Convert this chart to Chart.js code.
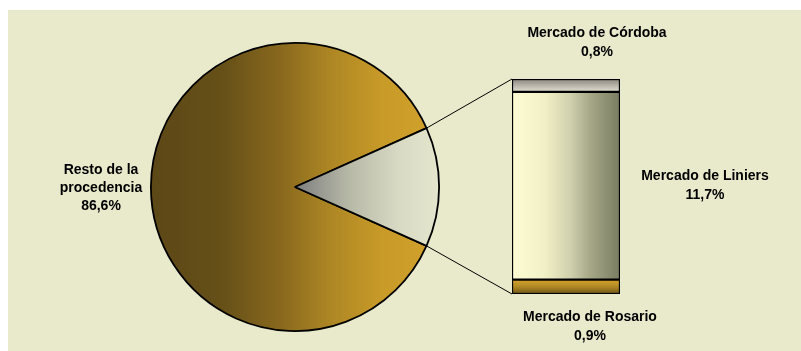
<!DOCTYPE html>
<html>
<head>
<meta charset="utf-8">
<script src="https://cdn.jsdelivr.net/npm/chart.js@4.4.0/dist/chart.umd.min.js"></script>
<style>
  body { margin: 0; background: #ffffff; }
  #wrap { position: relative; width: 801px; height: 351px; overflow: hidden; }
  #panel { position: absolute; left: 8px; top: 10px; width: 793px; height: 341px; background: #e9e9cb; }
  canvas { position: absolute; left: 0; top: 0; }
</style>
</head>
<body>
<div id="wrap">
  <div id="panel"></div>
  <canvas id="pieChart" width="801" height="351"></canvas>
  <canvas id="barChart" width="801" height="351"></canvas>
</div>
<script>
// pie: main share vs. the markets broken out in the bar
var pieLabels = [['Resto de la', 'procedencia'], ['Mercados']];
var pieValues = [86.6, 13.4];

// bar: stacked from bottom to top
var barLabels = ['Mercado de Rosario', 'Mercado de Liniers', 'Mercado de Córdoba'];
var barValues = [0.9, 11.7, 0.8];

var labelFont = 'bold 14px "Liberation Sans", Arial, sans-serif';

function pct(v){
  return v.toFixed(1).replace('.', ',') + '%';
}

// gradient helper
function grad(ctx, x0, y0, x1, y1, stops){
  var g = ctx.createLinearGradient(x0, y0, x1, y1);
  for (var i = 0; i < stops.length; i++) {
    g.addColorStop(stops[i][0], stops[i][1]);
  }
  return g;
}

var pieTotal = pieValues[0] + pieValues[1];
// put the small slice centred on 3 o'clock
var pieRotation = 90 - (pieValues[0] + pieValues[1] / 2) / pieTotal * 360;

var pieChart = new Chart(document.getElementById('pieChart').getContext('2d'), {
  type: 'pie',
  data: {
    labels: pieLabels,
    datasets: [{
      data: pieValues,
      backgroundColor: function(c){
        var area = c.chart.chartArea;
        if (!area) return '#c89a28';
        var ctx = c.chart.ctx;
        if (c.dataIndex == 0) {
          return grad(ctx, area.left, 0, area.right, 0, [
            [0, '#5c4717'], [0.25, '#665018'], [0.45, '#88681d'], [0.62, '#ad8624'], [0.8, '#c89a28'], [1, '#d2a22b']
          ]);
        }
        var cx = (area.left + area.right) / 2;
        return grad(ctx, cx, 0, area.right, 0, [
          [0, '#7e7e7e'], [0.38, '#b8baa8'], [0.72, '#d8dac4'], [1, '#e6e6ce']
        ]);
      },
      borderColor: '#000000',
      borderWidth: 1.8
    }]
  },
  options: {
    responsive: false,
    animation: false,
    rotation: pieRotation,
    layout: { padding: { left: 150, right: 361, top: 42, bottom: 19 } },
    plugins: { legend: { display: false }, tooltip: { enabled: false } }
  }
});

// colour stops for each bar segment, bottom to top
var barStops = [
  { dir: 'v', stops: [[0, '#d6a42c'], [0.5, '#b08824'], [1, '#6e5216']] },
  { dir: 'h', stops: [[0, '#fdfcd4'], [0.3, '#f2f0c6'], [0.54, '#d0d0ae'], [0.72, '#a6a888'], [1, '#7a7c62']] },
  { dir: 'v', stops: [[0, '#8a8680'], [0.5, '#b8b4aa'], [1, '#e2ded2']] }
];

var barDatasets = [];
for (var i = 0; i < barValues.length; i++) {
  (function(i){
    barDatasets.push({
      label: barLabels[i],
      data: [barValues[i]],
      backgroundColor: function(c){
        var chart = c.chart;
        var area = chart.chartArea;
        if (!area) return '#cccccc';
        var y = chart.scales.y;
        var low = 0;
        for (var k = 0; k < i; k++) low += barValues[k];
        var yBottom = y.getPixelForValue(low);
        var yTop = y.getPixelForValue(low + barValues[i]);
        if (barStops[i].dir == 'h') {
          return grad(chart.ctx, area.left, 0, area.right, 0, barStops[i].stops);
        }
        return grad(chart.ctx, 0, yTop, 0, yBottom, barStops[i].stops);
      },
      borderColor: '#000000',
      borderWidth: 1.5,
      borderSkipped: false,
      barPercentage: 1,
      categoryPercentage: 1
    });
  })(i);
}

var barSum = 0;
for (var i = 0; i < barValues.length; i++) barSum += barValues[i];

// connector lines + data labels
var annotations = {
  id: 'annotations',
  afterDatasetsDraw: function(chart){
    var ctx = chart.ctx;
    var arc = pieChart.getDatasetMeta(0).data[1];
    var top = chart.getDatasetMeta(barValues.length - 1).data[0];
    var bottom = chart.getDatasetMeta(0).data[0];
    if (arc && top && bottom) {
      var r = arc.outerRadius;
      var leftX = top.x - top.width / 2;
      ctx.save();
      ctx.strokeStyle = '#000000';
      ctx.lineWidth = 1;
      ctx.beginPath();
      ctx.moveTo(arc.x + r * Math.cos(arc.startAngle), arc.y + r * Math.sin(arc.startAngle));
      ctx.lineTo(leftX, top.y);
      ctx.moveTo(arc.x + r * Math.cos(arc.endAngle), arc.y + r * Math.sin(arc.endAngle));
      ctx.lineTo(leftX, bottom.base);
      ctx.stroke();
      ctx.restore();
    }

    ctx.save();
    ctx.font = labelFont;
    ctx.fillStyle = '#000000';
    ctx.textAlign = 'center';
    ctx.textBaseline = 'middle';
    // pie label
    var lines = pieLabels[0].concat([pct(pieValues[0])]);
    var ys = [170, 188, 206];
    for (var j = 0; j < lines.length; j++) ctx.fillText(lines[j], 101, ys[j]);
    // bar labels
    var spots = [[590, 317], [705, 176], [597, 33]];
    for (var k = 0; k < barLabels.length; k++) {
      ctx.fillText(barLabels[k], spots[k][0], spots[k][1]);
      ctx.fillText(pct(barValues[k]), spots[k][0], spots[k][1] + 19);
    }
    ctx.restore();
  }
};

var barChart = new Chart(document.getElementById('barChart').getContext('2d'), {
  type: 'bar',
  data: {
    labels: [''],
    datasets: barDatasets
  },
  options: {
    responsive: false,
    animation: false,
    layout: { padding: { left: 512, right: 181, top: 79, bottom: 57 } },
    scales: {
      x: { stacked: true, display: false },
      y: { stacked: true, display: false, min: 0, max: barSum }
    },
    plugins: { legend: { display: false }, tooltip: { enabled: false } }
  },
  plugins: [annotations]
});
</script>
</body>
</html>
